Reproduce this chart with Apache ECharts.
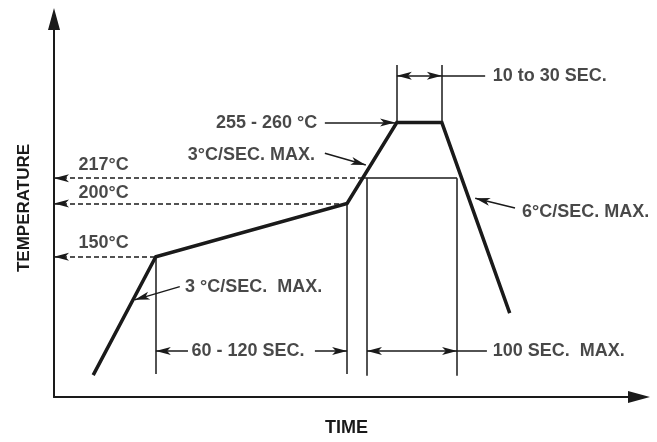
<!DOCTYPE html>
<html>
<head>
<meta charset="utf-8">
<script src="https://cdn.jsdelivr.net/npm/echarts@6/dist/echarts.min.js"></script>
<style>
  html, body { margin: 0; padding: 0; background: #fff; }
  #chart { width: 657px; height: 442px; }
</style>
</head>
<body>
<div id="chart"></div>
<script>
// schematic units (0-100 on each axis)
const profileTime = [6.7, 17.4, 50.1, 58.6, 66.3, 77.9];
const profileTemp = [5.8, 37.1, 51.2, 72.6, 72.6, 22.2];

const levelNames = ['150°C', '200°C', '217°C'];
const levelHeights = [37.1, 51.2, 57.9];
const levelEnds = [17.4, 50.1, 53.0];     // dashed lines stop at the profile
const levelLabelHeights = [40.7, 54.0, 61.4];

const markerTimes = [17.4, 50.1, 53.5, 68.9];   // vertical lines down to the time dims
const markerBottom = 6.1;
const peakTimes = [58.6, 66.3];
const peakTop = 87.8;

const dimLowY = 12.2;
const dimTopY = 85.0;

const FONT = "'Liberation Sans', Arial, sans-serif";
const INK = '#1a1a1a';

const chart = echarts.init(document.getElementById('chart'), null, { renderer: 'canvas' });

const solid = { color: INK, width: 1.5, type: 'solid' };
const dashed = { color: INK, width: 1.5, type: [5, 3] };

function seg(a, b, s1, s2, style) {
  return [
    { coord: a, symbol: s1 || 'none' },
    { coord: b, symbol: s2 || 'none', lineStyle: style || solid }
  ];
}

const lines = [];
// temperature levels, arrow at the axis
levelHeights.forEach(function (h, i) {
  lines.push(seg([0, h], [levelEnds[i], h], 'arrow', 'none', dashed));
});
// 217 across the peak window
lines.push(seg([levelEnds[2], levelHeights[2]], [markerTimes[3], levelHeights[2]]));
// verticals
lines.push(seg([markerTimes[0], levelHeights[0]], [markerTimes[0], markerBottom]));
lines.push(seg([markerTimes[1], levelHeights[1]], [markerTimes[1], markerBottom]));
lines.push(seg([markerTimes[2], levelHeights[2]], [markerTimes[2], markerBottom - 0.5]));
lines.push(seg([markerTimes[3], levelHeights[2]], [markerTimes[3], markerBottom - 0.5]));
lines.push(seg([peakTimes[0], profileTemp[3]], [peakTimes[0], peakTop]));
lines.push(seg([peakTimes[1], profileTemp[3]], [peakTimes[1], peakTop]));
// 60 - 120 SEC.
lines.push(seg([markerTimes[0], dimLowY], [22.9, dimLowY], 'arrow', 'none'));
lines.push(seg([44.6, dimLowY], [markerTimes[1], dimLowY], 'none', 'arrow'));
// 100 SEC. MAX.
lines.push(seg([markerTimes[2], dimLowY], [markerTimes[3], dimLowY], 'arrow', 'arrow'));
lines.push(seg([markerTimes[3], dimLowY], [74.0, dimLowY]));
// 10 to 30 SEC.
lines.push(seg([peakTimes[0], dimTopY], [peakTimes[1], dimTopY], 'arrow', 'arrow'));
lines.push(seg([peakTimes[1], dimTopY], [73.7, dimTopY]));
// leaders
lines.push(seg([46.3, 72.6], [58.3, 72.6], 'none', 'arrow'));
lines.push(seg([46.3, 64.5], [53.3, 61.4], 'none', 'arrow'));
lines.push(seg([78.8, 50.0], [72.0, 52.6], 'none', 'arrow'));
lines.push(seg([21.5, 29.2], [13.8, 25.7], 'none', 'arrow'));

const labels = [
  [4.2, levelLabelHeights[2], levelNames[2], 'left'],
  [4.2, levelLabelHeights[1], levelNames[1], 'left'],
  [4.2, levelLabelHeights[0], levelNames[0], 'left'],
  [45.0, 72.6, '255 - 260 °C', 'right'],
  [44.6, 64.0, '3°C/SEC. MAX.', 'right'],
  [80.0, 49.0, '6°C/SEC. MAX.', 'left'],
  [22.4, 29.2, '3 °C/SEC.  MAX.', 'left'],
  [23.5, dimLowY, '60 - 120 SEC.', 'left'],
  [75.0, dimLowY, '100 SEC.  MAX.', 'left'],
  [75.0, dimTopY, '10 to 30 SEC.', 'left']
];

const option = {
  animation: false,
  grid: { left: 54, right: 18, top: 19, bottom: 45 },
  xAxis: {
    type: 'value', min: 0, max: 100,
    name: 'TIME', nameLocation: 'middle', nameGap: 22,
    nameTextStyle: { color: INK, fontFamily: FONT, fontWeight: 'bold', fontSize: 18 },
    axisLine: { show: true, symbol: ['none', 'triangle'], symbolSize: [12, 22], lineStyle: { color: INK, width: 2 } },
    axisTick: { show: false }, axisLabel: { show: false }, splitLine: { show: false }
  },
  yAxis: {
    type: 'value', min: 0, max: 100,
    name: 'TEMPERATURE', nameLocation: 'middle', nameGap: 21, nameRotate: 90,
    nameTextStyle: { color: INK, fontFamily: FONT, fontWeight: 'bold', fontSize: 17 },
    axisLine: { show: true, symbol: ['none', 'triangle'], symbolSize: [12, 22], lineStyle: { color: INK, width: 2 } },
    axisTick: { show: false }, axisLabel: { show: false }, splitLine: { show: false }
  },
  series: [
    {
      type: 'line',
      data: profileTime.map(function (t, i) { return [t, profileTemp[i]]; }),
      showSymbol: false,
      lineStyle: { color: INK, width: 3.5, join: 'miter' },
      z: 5,
      markLine: {
        silent: true,
        symbol: ['none', 'none'],
        symbolSize: [6, 15],
        label: { show: false },
        lineStyle: solid,
        emphasis: { disabled: true },
        data: lines
      }
    },
    {
      type: 'scatter',
      symbolSize: 0,
      silent: true,
      data: labels.map(function (d) {
        return {
          value: [d[0], d[1]],
          label: {
            show: true, position: 'inside', formatter: d[2], align: d[3], verticalAlign: 'middle',
            color: INK, fontFamily: FONT, fontWeight: 'bold', fontSize: 18
          }
        };
      })
    }
  ]
};

chart.setOption(option);
</script>
</body>
</html>
